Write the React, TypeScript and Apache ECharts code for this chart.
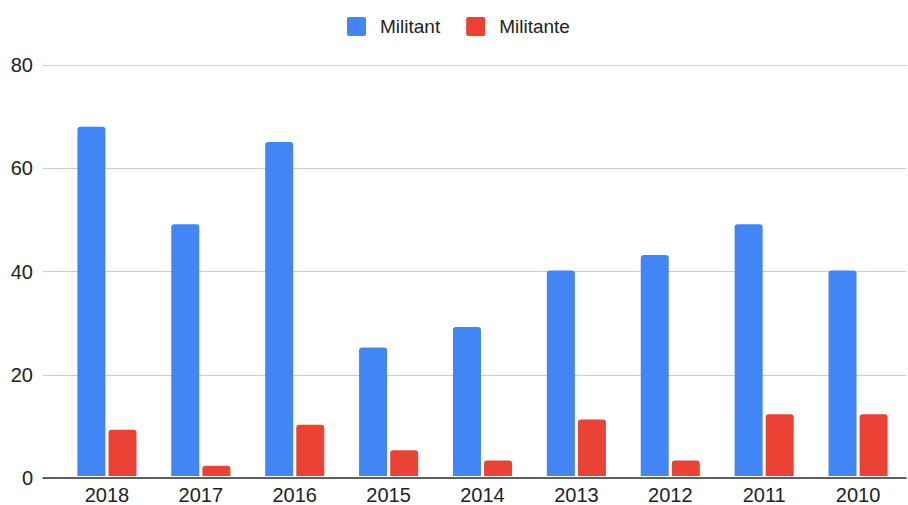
import React, { useEffect, useRef } from "react";
import * as echarts from "echarts";

const categories = ["2018", "2017", "2016", "2015", "2014", "2013", "2012", "2011", "2010"];
const militant = [68, 49, 65, 25, 29, 40, 43, 49, 40];
const militante = [9, 2, 10, 5, 3, 11, 3, 12, 12];
const yTicks = { min: 0, max: 80, interval: 20 };

export default function App() {
  const ref = useRef<HTMLDivElement>(null);
  useEffect(() => {
    const chart = echarts.init(ref.current!, undefined, { renderer: "svg" });
    const font = "'Liberation Sans', Arial, sans-serif";
    chart.setOption({
      animation: false,
      textStyle: { fontFamily: font },
      legend: {
        top: 12,
        left: 342,
        itemWidth: 19,
        itemHeight: 19,
        itemGap: 26,
        icon: "path://M2,0H17A2,2 0 0 1 19,2V17A2,2 0 0 1 17,19H2A2,2 0 0 1 0,17V2A2,2 0 0 1 2,0Z",
        textStyle: { fontSize: 19, color: "#222", fontFamily: font, padding: [0, 0, 0, 9] },
        data: ["Militant", "Militante"],
      },
      grid: [
        { left: 43, right: 2, top: 65, bottom: 27 },
        { left: 60, right: 3, top: 65, bottom: 27 },
      ],
      xAxis: [
        {
          gridIndex: 0,
          type: "value",
          min: 0,
          max: 1,
          axisLine: { show: true, onZero: false, lineStyle: { color: "#333", width: 1.5 } },
          axisTick: { show: false },
          axisLabel: { show: false },
          splitLine: { show: false },
        },
        {
          gridIndex: 1,
          type: "category",
          data: categories,
          axisLine: { show: false },
          axisTick: { show: false },
          axisLabel: { fontSize: 20, color: "#222", margin: 9, fontFamily: font },
        },
      ],
      yAxis: [
        {
          gridIndex: 0,
          type: "value",
          min: yTicks.min,
          max: yTicks.max,
          interval: yTicks.interval,
          axisLine: { show: false },
          axisTick: { show: false },
          axisLabel: { fontSize: 20, color: "#222", margin: 10, fontFamily: font },
          splitLine: { lineStyle: { color: "#ccc", width: 1 } },
        },
        {
          gridIndex: 1,
          type: "value",
          min: yTicks.min,
          max: yTicks.max,
          interval: yTicks.interval,
          show: false,
          splitLine: { show: false },
        },
      ],
      series: [
        {
          name: "Militant",
          type: "bar",
          xAxisIndex: 1,
          yAxisIndex: 1,
          data: militant,
          barWidth: 28,
          barGap: "11%",
          itemStyle: { color: "#4285f4", borderRadius: [3, 3, 0, 0] },
        },
        {
          name: "Militante",
          type: "bar",
          xAxisIndex: 1,
          yAxisIndex: 1,
          data: militante,
          barWidth: 28,
          barGap: "11%",
          itemStyle: { color: "#ea4335", borderRadius: [3, 3, 0, 0] },
        },
      ],
    });
    return () => chart.dispose();
  }, []);
  return (
    <div
      ref={ref}
      style={{ position: "fixed", left: 0, top: 0, width: 908, height: 505, background: "#fff" }}
    />
  );
}
